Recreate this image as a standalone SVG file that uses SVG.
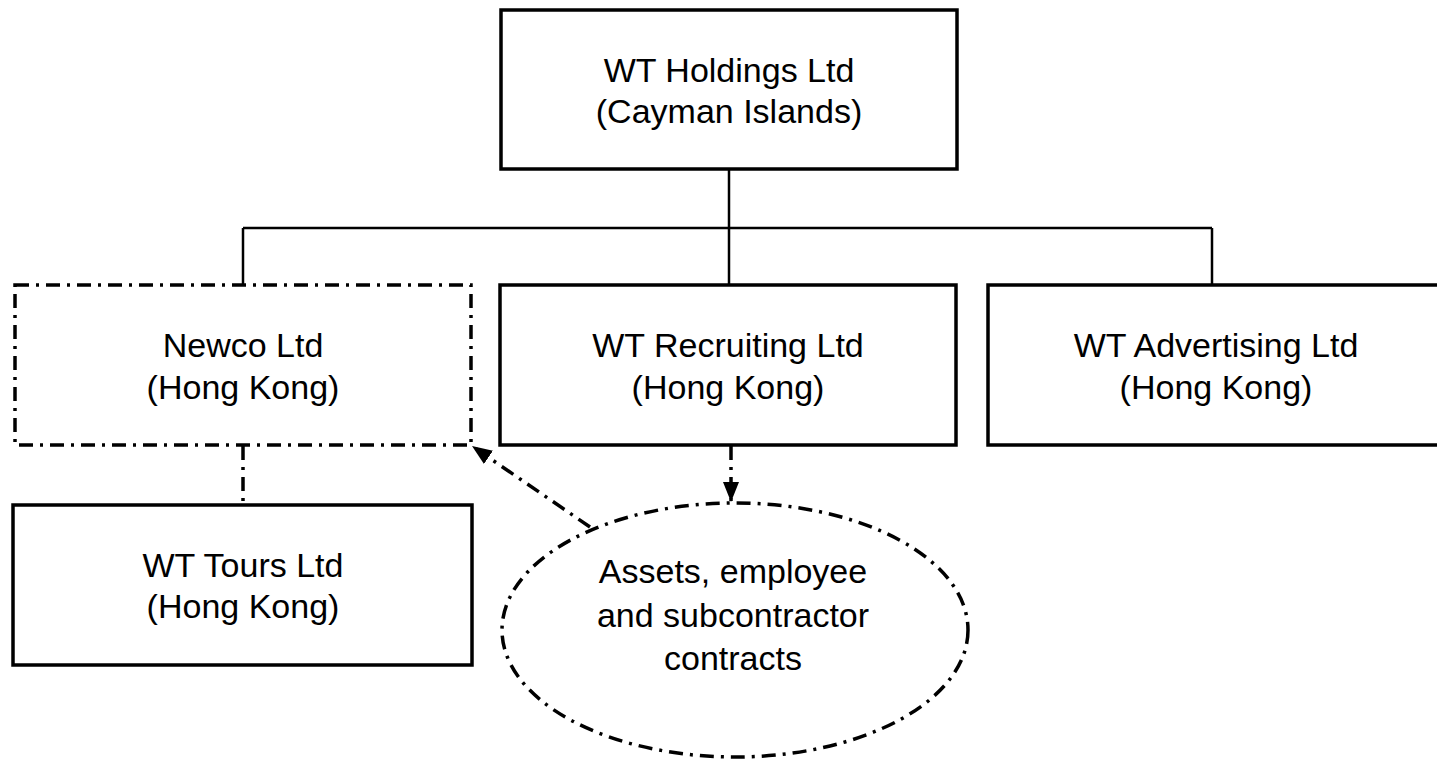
<svg xmlns="http://www.w3.org/2000/svg" width="1437" height="760" viewBox="0 0 1437 760">
<defs>
<style>
.box{fill:#fff;stroke:#000;stroke-width:3.5}
.dd{fill:none;stroke:#000;stroke-width:3.5;stroke-dasharray:14 7 3 7}
.ln{fill:none;stroke:#000;stroke-width:2.5}
.t{font-family:"Liberation Sans",Arial,sans-serif;font-size:34px;fill:#000;text-anchor:middle}
</style>
<marker id="arr" viewBox="0 0 20 20" refX="20" refY="10" markerWidth="20" markerHeight="20" markerUnits="userSpaceOnUse" orient="auto">
<path d="M0,2 L20,10 L0,18 z" fill="#000"/>
</marker>
</defs>
<rect width="1437" height="760" fill="#fff"/>
<g id="connectors">
<path class="ln" d="M729,170 V285"/>
<path class="ln" d="M243,228 H1212"/>
<path class="ln" d="M243,228 V285"/>
<path class="ln" d="M1212,228 V285"/>
<path class="dd" d="M243,446 V505"/>
<path class="dd" d="M731,446 V502" marker-end="url(#arr)"/>
<path class="dd" d="M590,527 L472,446" marker-end="url(#arr)"/>
</g>
<g id="holdings">
<rect class="box" x="501" y="10" width="456" height="159"/>
<text class="t" x="729" y="82">WT Holdings Ltd</text>
<text class="t" x="729" y="123">(Cayman Islands)</text>
</g>
<g id="newco">
<rect class="dd" x="15" y="285" width="456" height="160"/>
<text class="t" x="243" y="357">Newco Ltd</text>
<text class="t" x="243" y="399">(Hong Kong)</text>
</g>
<g id="recruiting">
<rect class="box" x="500" y="285" width="456" height="160"/>
<text class="t" x="728" y="357">WT Recruiting Ltd</text>
<text class="t" x="728" y="399">(Hong Kong)</text>
</g>
<g id="advertising">
<rect class="box" x="988" y="285" width="460" height="160"/>
<text class="t" x="1216" y="357">WT Advertising Ltd</text>
<text class="t" x="1216" y="399">(Hong Kong)</text>
</g>
<g id="tours">
<rect class="box" x="13" y="505" width="459" height="160"/>
<text class="t" x="243" y="577">WT Tours Ltd</text>
<text class="t" x="243" y="618">(Hong Kong)</text>
</g>
<g id="assets">
<ellipse class="dd" cx="735" cy="630" rx="233" ry="127"/>
<text class="t" x="733" y="583">Assets, employee</text>
<text class="t" x="733" y="627">and subcontractor</text>
<text class="t" x="733" y="670">contracts</text>
</g>
</svg>
